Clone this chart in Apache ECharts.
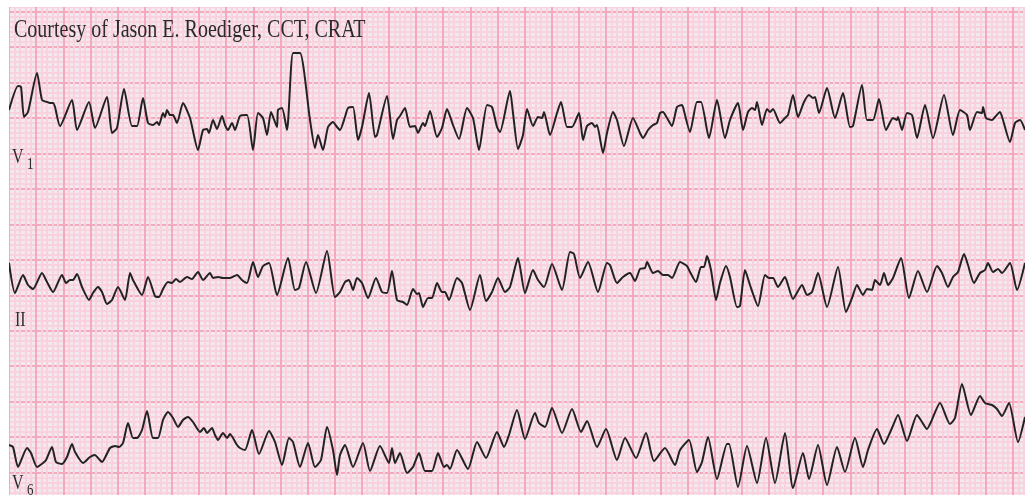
<!DOCTYPE html>
<html>
<head>
<meta charset="utf-8">
<title>ECG strip</title>
<script src="https://cdn.jsdelivr.net/npm/echarts@6/dist/echarts.min.js"></script>
<style>
  html, body { margin: 0; padding: 0; background: #fff; }
  #chart { width: 1025px; height: 495px; }
</style>
</head>
<body>
<div id="chart"></div>
<script>
// samples: [sample index, amplitude] , 1 sample ~ 7.4 ms, amplitude in raw counts from baseline
const v1Samples = [
  [0, 7], [9, 31], [12, 30], [15, 0], [19, 5], [28, 44], [33, 17], [38, 15], [41, 14], [44, 14], [46, 10],
  [51, -9], [63, 17], [68, -13], [80, 15], [86, -11], [98, 20], [103, -16], [108, -11], [115, 28], [123, -9],
  [128, -9], [134, 19], [139, -6], [144, -8], [148, -5], [150, -8], [154, 4], [156, 0], [158, 7], [161, 2],
  [164, 2], [168, -6], [174, 14], [181, -1], [189, -33], [194, -13], [198, -12], [200, -16], [204, -3],
  [208, -12], [213, 1], [216, -8], [219, -13], [223, -6], [226, -13], [231, 1], [238, 2], [244, -33],
  [249, 4], [254, -1], [258, -18], [262, 5], [268, -10], [269, 7], [273, 9], [278, -13], [284, 64],
  [291, 64], [301, -3], [306, -31], [309, -18], [314, -33], [319, -10], [324, -5], [328, -10], [331, -13],
  [336, 0], [339, 9], [344, 10], [349, -23], [353, -10], [360, 24], [366, -20], [368, -18], [378, 21],
  [384, -22], [388, -3], [391, 1], [396, 9], [401, -10], [406, -9], [409, -16], [414, -6], [416, -9],
  [421, 6], [428, -20], [433, -11], [438, 8], [444, -8], [450, -22], [458, 9], [464, -1], [470, -33],
  [478, 12], [483, 10], [488, -10], [491, -15], [501, 26], [504, 4], [509, -32], [514, -18], [518, 8],
  [524, -9], [529, 0], [533, -1], [535, 5], [541, -18], [548, 4], [552, 15], [558, -10], [563, -10],
  [570, 4], [574, -23], [578, -9], [583, -6], [586, -10], [588, -8], [594, -36], [598, -16], [604, 5],
  [608, -3], [615, -29], [624, -1], [631, -16], [634, -21], [639, -13], [644, -8], [648, -6], [651, 4],
  [654, 5], [658, -1], [663, -9], [668, 10], [673, 12], [674, 10], [681, -15], [688, 15], [692, 15],
  [700, -21], [708, 17], [716, -21], [721, -3], [729, 14], [734, -13], [739, 5], [743, 9], [746, 7],
  [748, 15], [753, -8], [758, 8], [761, 5], [764, 8], [771, -6], [776, -1], [779, 2], [784, 22], [789, 0],
  [795, 15], [800, 22], [804, 19], [806, 20], [810, 4], [818, 29], [826, -1], [834, 24], [841, -10],
  [844, -9], [853, 32], [858, -3], [864, -3], [870, 18], [877, -13], [884, -1], [888, -3], [889, 0],
  [893, -13], [898, 4], [903, 2], [908, -21], [916, 12], [924, -21], [935, 22], [944, -18], [951, 7],
  [958, 2], [961, -13], [968, 5], [973, 4], [974, 10], [977, -1], [983, -3], [986, 0], [991, 5], [994, -3],
  [1001, -25], [1006, -6], [1011, -3], [1016, -13]
];

const iiSamples = [
  [0, 31], [6, 1], [14, 19], [19, 9], [24, 5], [33, 21], [38, 12], [44, 2], [53, 19], [57, 11], [61, 14],
  [64, 14], [68, 20], [73, 7], [80, -6], [84, 1], [89, 7], [93, 2], [98, -10], [103, -6], [109, 7],
  [116, -6], [121, 21], [124, 14], [133, -1], [139, 17], [146, -2], [150, -3], [154, 5], [159, 12],
  [163, 11], [167, 15], [171, 12], [178, 17], [183, 15], [189, 22], [194, 14], [201, 21], [204, 16],
  [209, 17], [214, 16], [221, 16], [228, 19], [233, 14], [238, 11], [244, 32], [249, 17], [254, 28],
  [260, 31], [268, -1], [279, 36], [286, 4], [290, 6], [297, 32], [307, 1], [318, 43], [326, -3], [331, 2],
  [336, 12], [340, 14], [344, 4], [348, 16], [353, 11], [359, -4], [367, 16], [373, 2], [378, 1], [383, 23],
  [388, -6], [394, -8], [398, -11], [404, 5], [408, 0], [410, 1], [414, -13], [419, -4], [423, -4],
  [428, 11], [433, 2], [436, 2], [440, -6], [448, 16], [453, 11], [461, -16], [471, 19], [477, -7],
  [483, 2], [489, 16], [496, 2], [501, 7], [509, 36], [516, 1], [524, 24], [529, 14], [535, 7], [543, 30],
  [553, 4], [561, 42], [565, 40], [571, 16], [579, 32], [589, 2], [598, 31], [601, 29], [608, 11],
  [614, 17], [621, 21], [626, 13], [631, 25], [636, 26], [638, 32], [644, 21], [649, 23], [654, 19],
  [659, 19], [663, 16], [671, 32], [678, 28], [681, 22], [687, 12], [692, 27], [695, 27], [698, 38],
  [702, 24], [707, -6], [711, 11], [717, 28], [721, 17], [728, -13], [731, -12], [736, 24], [741, 9],
  [749, -12], [756, 19], [760, 16], [764, 16], [769, 7], [776, 17], [779, 9], [784, -5], [793, 9],
  [798, -1], [803, 2], [809, 21], [818, -13], [829, 27], [837, -18], [843, -4], [848, 9], [854, -1],
  [858, 5], [863, 4], [866, 14], [871, 9], [875, 21], [879, 9], [884, 16], [892, 36], [900, -4], [909, 23],
  [918, 2], [928, 28], [933, 21], [939, 7], [944, 17], [949, 22], [955, 40], [959, 29], [965, 11],
  [971, 21], [976, 24], [979, 31], [984, 22], [989, 25], [993, 21], [1001, 31], [1008, 4], [1016, 31]
];

const v6Samples = [
  [0, -9], [4, -11], [9, -31], [18, -12], [22, -17], [28, -31], [34, -27], [37, -24], [43, -11], [47, -26],
  [53, -28], [58, -21], [63, -8], [66, -16], [74, -27], [81, -21], [86, -19], [89, -22], [93, -26],
  [101, -12], [106, -10], [110, -11], [114, -7], [119, 13], [124, -2], [128, -2], [133, 6], [138, 25],
  [144, -2], [149, -2], [154, 16], [159, 24], [164, 18], [169, 9], [174, 16], [179, 19], [184, 14],
  [191, 4], [195, 8], [198, 3], [203, 8], [206, 1], [209, -4], [214, 3], [218, -2], [221, 2], [228, -9],
  [231, -12], [236, -14], [243, 6], [250, -18], [260, 5], [266, -6], [273, -29], [280, -2], [284, -6],
  [291, -31], [299, -7], [306, -31], [312, -24], [318, 9], [324, -14], [328, -39], [331, -19], [336, -9],
  [344, -31], [354, -7], [361, -35], [371, -10], [380, -27], [383, -12], [386, -27], [391, -17], [398, -37],
  [404, -31], [410, -17], [416, -35], [423, -35], [429, -17], [435, -31], [438, -29], [441, -33],
  [448, -14], [459, -33], [468, -6], [477, -22], [488, 4], [495, -11], [500, 1], [508, 26], [516, -3],
  [526, 23], [530, 13], [536, 9], [543, 28], [553, 3], [563, 27], [572, 4], [578, 15], [588, -11], [597, 7],
  [608, -24], [616, -2], [627, -22], [637, 3], [645, -25], [656, -12], [666, -29], [671, -14], [680, -4],
  [688, -36], [693, -26], [699, -1], [708, -43], [718, -8], [720, -8], [729, -51], [738, -10], [748, -47],
  [757, -2], [766, -47], [776, 3], [784, -52], [794, -17], [800, -43], [809, -9], [818, -49], [828, -11],
  [836, -36], [846, -2], [854, -31], [859, -14], [868, 7], [875, -8], [883, 8], [889, 21], [898, -5],
  [908, 21], [913, 14], [918, 7], [922, 14], [931, 33], [941, 12], [946, 18], [953, 52], [962, 21],
  [971, 40], [976, 33], [983, 31], [988, 27], [993, 20], [1000, 33], [1009, -6], [1016, 19]
];

const leadNames = ['V1', 'II', 'V6'];
const creditText = 'Courtesy of Jason E. Roediger, CCT, CRAT';

// paper: one big box = 27.14 samples wide, 35.45 counts high
const BOX_X = 27.14;
const BOX_Y = 35.45;
// grid spans past the canvas so the paper lines fall in place
const GRID_TOP = -23.95;
const GRID_BOTTOM = 508.05;
// baseline of each lead in page pixels
const baselines = [117, 294, 436];

const majorColor = '#f6a9bc';
const minorColor = '#fad2dd';
const paperColor = '#f1e8f0';

const chart = echarts.init(document.getElementById('chart'));

function leadAxis(base) {
  return {
    type: 'value',
    gridIndex: 0,
    show: false,
    min: -(GRID_BOTTOM - base),
    max: base - GRID_TOP
  };
}

function leadSeries(name, data, axisIdx) {
  return {
    name: name,
    type: 'line',
    xAxisIndex: 0,
    yAxisIndex: axisIdx,
    data: data,
    showSymbol: false,
    smooth: 0.2,
    lineStyle: { color: '#222', width: 2 },
    silent: true
  };
}

function serifText(text, x, y, size) {
  return {
    type: 'text',
    x: x,
    y: y,
    scaleY: 1.27,
    z: 100,
    style: {
      text: text,
      x: 0,
      y: 0,
      fill: '#2a2a2a',
      font: size + 'px "Liberation Serif", "DejaVu Serif", serif',
      verticalAlign: 'top'
    }
  };
}

const option = {
  animation: false,
  backgroundColor: '#fff',
  grid: {
    left: 9,
    right: 1025 - (9 + 38 * BOX_X),
    top: GRID_TOP,
    bottom: 495 - GRID_BOTTOM,
    outerBoundsMode: 'none',
    containLabel: false,
    show: true,
    backgroundColor: paperColor,
    borderWidth: 0
  },
  xAxis: {
    type: 'value',
    min: 0,
    max: 38 * BOX_X,
    interval: BOX_X,
    axisLine: { show: false },
    axisTick: { show: false },
    axisLabel: { show: false },
    splitLine: { show: true, lineStyle: { color: majorColor, width: 2 } },
    minorTick: { show: false, splitNumber: 5 },
    minorSplitLine: { show: true, lineStyle: { color: minorColor, width: 2 } }
  },
  yAxis: [
    {
      type: 'value',
      min: 0,
      max: 15 * BOX_Y,
      interval: BOX_Y,
      axisLine: { show: false },
      axisTick: { show: false },
      axisLabel: { show: false },
      splitLine: { show: true, lineStyle: { color: majorColor, width: 2 } },
      minorTick: { show: false, splitNumber: 7 },
      minorSplitLine: { show: true, lineStyle: { color: minorColor, width: 2 } }
    },
    leadAxis(baselines[0]),
    leadAxis(baselines[1]),
    leadAxis(baselines[2])
  ],
  series: [
    leadSeries(leadNames[0], v1Samples, 1),
    leadSeries(leadNames[1], iiSamples, 2),
    leadSeries(leadNames[2], v6Samples, 3)
  ],
  graphic: [
    // white margins around the paper
    { type: 'rect', shape: { x: 0, y: 0, width: 1025, height: 7 }, style: { fill: '#fff' }, z: 90 },
    { type: 'rect', shape: { x: 0, y: 0, width: 9, height: 495 }, style: { fill: '#fff' }, z: 90 },
    serifText(creditText, 14, 18, 20),
    serifText('V', 12, 148, 16),
    serifText('1', 27, 156, 13),
    serifText('II', 15, 311, 16),
    serifText('V', 12, 474, 16),
    serifText('6', 27, 482, 13)
  ]
};

chart.setOption(option);
</script>
</body>
</html>
